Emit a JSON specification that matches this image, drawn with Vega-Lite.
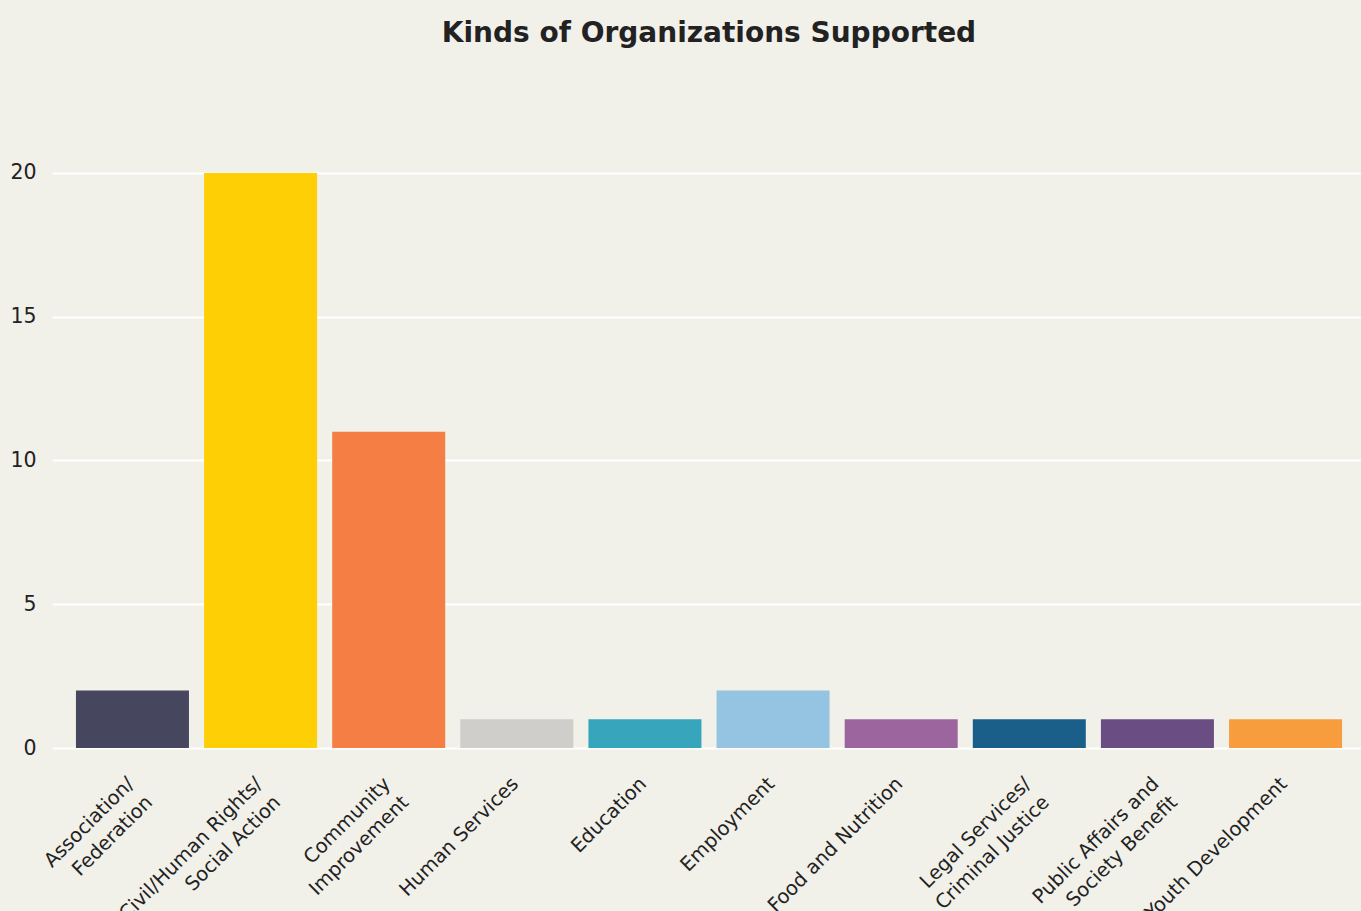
{
  "$schema": "https://vega.github.io/schema/vega-lite/v6.json",
  "autosize": "none",
  "padding": {"left": 52, "top": 85, "right": 0, "bottom": 163},
  "width": 1314,
  "height": 663,
  "background": "#f1f0e9",
  "title": {
    "text": "Kinds of Organizations Supported",
    "font": "DejaVu Sans",
    "fontSize": 28,
    "fontWeight": "bold",
    "color": "#222222",
    "anchor": "middle",
    "offset": 37
  },
  "data": {
    "values": [
      {"kind": "Association/\nFederation", "count": 2},
      {"kind": "Civil/Human Rights/\nSocial Action", "count": 20},
      {"kind": "Community\nImprovement", "count": 11},
      {"kind": "Human Services", "count": 1},
      {"kind": "Education", "count": 1},
      {"kind": "Employment", "count": 2},
      {"kind": "Food and Nutrition", "count": 1},
      {"kind": "Legal Services/\nCriminal Justice", "count": 1},
      {"kind": "Public Affairs and\nSociety Benefit", "count": 1},
      {"kind": "Youth Development", "count": 1}
    ]
  },
  "mark": {"type": "bar"},
  "encoding": {
    "x": {
      "field": "kind",
      "type": "nominal",
      "sort": null,
      "title": null,
      "scale": {"paddingInner": 0.118, "paddingOuter": 0.187},
      "axis": {
        "labelAngle": -45,
        "labelAlign": "right",
        "labelBaseline": "top",
        "labelPadding": 26,
        "labelOffset": -8,
        "labelLimit": 0,
        "labelExpr": "split(datum.label, '\\n')",
        "labelFont": "DejaVu Sans",
        "labelFontSize": 19.5,
        "labelColor": "#222222",
        "labelLineHeight": 26,
        "ticks": false,
        "domain": false,
        "grid": false
      }
    },
    "y": {
      "field": "count",
      "type": "quantitative",
      "title": null,
      "scale": {"domain": [0, 23.06], "nice": false},
      "axis": {
        "values": [0, 5, 10, 15, 20],
        "labelFont": "DejaVu Sans",
        "labelFontSize": 20.5,
        "labelColor": "#222222",
        "labelPadding": 16,
        "ticks": false,
        "domain": false,
        "grid": true,
        "gridColor": "#ffffff",
        "gridWidth": 2,
        "gridOpacity": 1
      }
    },
    "color": {
      "field": "kind",
      "type": "nominal",
      "sort": null,
      "legend": null,
      "scale": {
        "range": ["#46465e", "#ffcf06", "#f47e43", "#cfcecb", "#37a6bc", "#95c4e2", "#9d659e", "#1a5f89", "#694d83", "#f89d3d"]
      }
    }
  },
  "config": {
    "view": {"stroke": null}
  }
}
